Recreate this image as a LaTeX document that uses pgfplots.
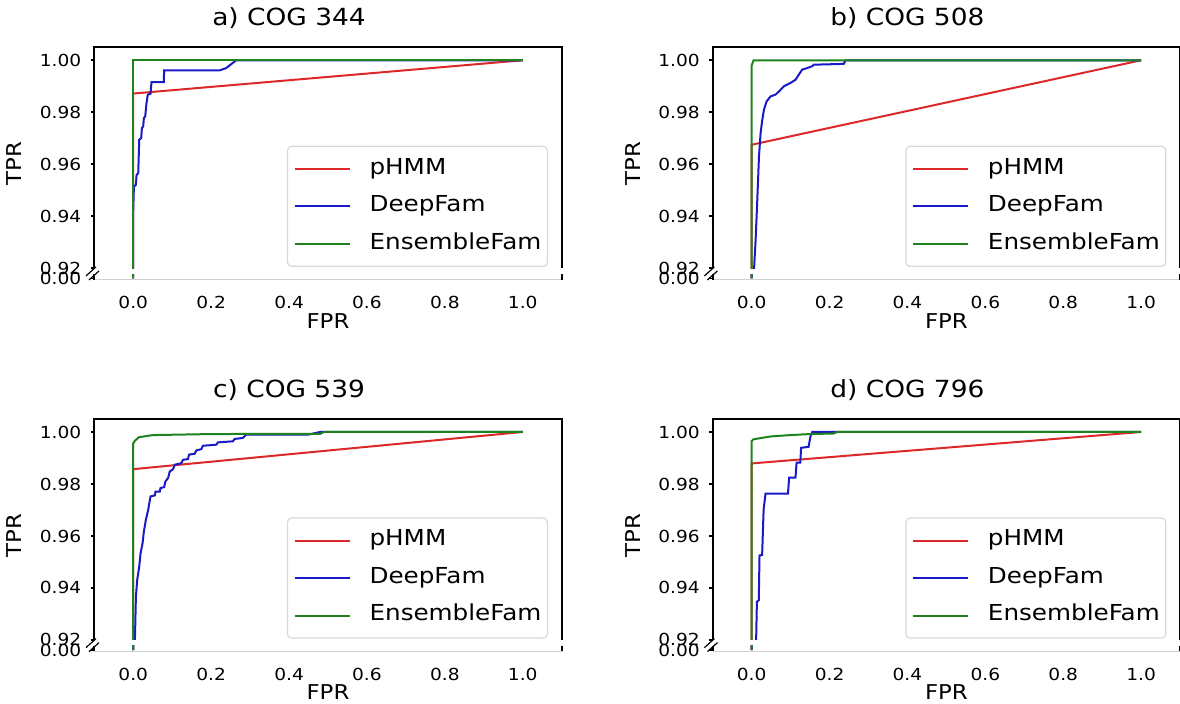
\documentclass[border=0pt]{standalone}
\usepackage{fontspec}
\setmainfont{DejaVu Sans}[FakeStretch=1.12]
\usepackage{pgfplots}
\usepackage{pgfplotstable}
\pgfplotsset{compat=1.18}

\definecolor{cred}{RGB}{220,40,40}
\definecolor{cblue}{RGB}{25,25,200}
\definecolor{cgreen}{RGB}{30,130,30}

\newcommand\tickfont{\fontsize{8.3}{10}\selectfont}
\newcommand\labelfont{\fontsize{10.2}{12}\selectfont}
\newcommand\titlefont{\fontsize{11.8}{14}\selectfont}
\newcommand\legfont{\fontsize{11}{13}\selectfont}

% ---------- data ----------
\pgfplotstableread{
x y
0 0
0 0.9872
1 1
}\aRed
\pgfplotstableread{
x y
0 0
0 0.9424
0.0017 0.9514
0.0068 0.9521
0.0085 0.9559
0.0128 0.9566
0.0153 0.9694
0.0205 0.9701
0.0222 0.9739
0.0256 0.9746
0.0273 0.9778
0.0307 0.9784
0.0341 0.9836
0.0375 0.9868
0.0443 0.9871
0.0469 0.9916
0.0784 0.9916
0.0793 0.9961
0.2217 0.9961
0.2387 0.9970
0.2558 0.9990
0.2643 1.0
1 1
}\aBlue
\pgfplotstableread{
x y
0 0
0 1
1 1
}\aGreen

\pgfplotstableread{
x y
0 0
0 0.9675
1 1
}\bRed
\pgfplotstableread{
x y
0 0
0.006 0.9193
0.0102 0.9309
0.0145 0.9463
0.0188 0.963
0.023 0.972
0.0273 0.9771
0.0316 0.981
0.0384 0.9842
0.0486 0.9861
0.0614 0.9868
0.07 0.988
0.0828 0.99
0.0998 0.9913
0.1126 0.9925
0.1212 0.9945
0.1297 0.9964
0.1425 0.997
0.1553 0.9977
0.1596 0.9983
0.2363 0.9986
0.241 1.0
1 1
}\bBlue
\pgfplotstableread{
x y
0 0
0 0.998
0.005 1
1 1
}\bGreen

\pgfplotstableread{
x y
0 0
0 0.9857
1 1
}\cRed
\pgfplotstableread{
x y
0 0
0.0043 0.92
0.0068 0.9366
0.0102 0.9431
0.0153 0.9482
0.0188 0.9534
0.0239 0.9572
0.0273 0.9617
0.0324 0.9662
0.0384 0.9701
0.0443 0.9752
0.0554 0.9756
0.0571 0.9771
0.0682 0.9771
0.0699 0.9784
0.0793 0.9788
0.0827 0.981
0.0895 0.9823
0.0938 0.9848
0.1023 0.9857
0.1066 0.9874
0.1236 0.988
0.1279 0.9893
0.1407 0.9896
0.1432 0.9913
0.1577 0.9916
0.162 0.9929
0.1748 0.9934
0.179 0.9947
0.2131 0.9951
0.2174 0.996
0.2558 0.9964
0.26 0.9973
0.2813 0.9977
0.2899 0.999
0.45 0.999
0.48 1.0
1 1
}\cBlue
\pgfplotstableread{
x y
0 0
0 0.9955
0.004 0.9966
0.015 0.998
0.05 0.9988
0.2 0.9992
0.48 0.9993
0.49 1
1 1
}\cGreen

\pgfplotstableread{
x y
0 0
0 0.9879
1 1
}\dRed
\pgfplotstableread{
x y
0 0
0.0115 0.92
0.0135 0.9347
0.0183 0.9353
0.0202 0.9525
0.0269 0.9527
0.0308 0.9703
0.0356 0.9763
0.0933 0.9763
0.0962 0.9824
0.1125 0.9824
0.1154 0.9882
0.125 0.9882
0.1269 0.9939
0.1462 0.9943
0.151 0.9983
0.1558 1
1 1
}\dBlue
\pgfplotstableread{
x y
0 0
0 0.9965
0.005 0.9972
0.05 0.9983
0.1 0.9988
0.15 0.9992
0.21 0.9994
0.22 1
1 1
}\dGreen

% ---------- styles ----------
\pgfplotsset{
  common/.style={
    width=233.7pt, scale only axis, anchor=south west,
    xmin=-0.1, xmax=1.1,
    axis line style={draw=none},
    clip mode=individual,
    scaled ticks=false,
    tick align=outside, ytick pos=left,
    major tick length=1.75pt,
    tick style={black, line width=0.8pt},
    yticklabel style={font=\tickfont, anchor=east, inner sep=0pt, xshift=-4.55pt},
    every axis plot/.append style={line width=1pt},
  },
  upper/.style={
    common, height=110.5pt,
    ymin=0.92, ymax=1.005,
    xtick=\empty,
    ytick={0.92,0.94,0.96,0.98,1.00},
    yticklabels={0.92,0.94,0.96,0.98,1.00},
    ylabel={TPR},
    ylabel style={at={(axis description cs:-0.171,0.474)}, anchor=center, font=\labelfont},
    title style={at={(axis description cs:0.4166,1.0421)}, anchor=base, font=\titlefont, inner sep=0pt},
    legend style={at={(0.9707,0.006)}, anchor=south east, draw=black!15, line width=0.6pt,
      rounded corners=2pt, fill=white, font=\legfont,
      inner xsep=3pt, inner ysep=5.75pt, row sep=7.75pt,
      nodes={inner sep=0pt, text height=8.2pt, text depth=2.8pt, anchor=west},
      /tikz/every odd column/.style={column sep=9.5pt}},
    legend cell align=left,
    legend image code/.code={\draw[#1] (0pt,0pt) -- (27.5pt,0pt);},
  },
  lower/.style={
    common, height=2.75pt,
    ymin=-0.001, ymax=0.0035,
    ytick={0}, yticklabels={0.00},
    xtick={0,0.2,0.4,0.6,0.8,1.0},
    xticklabels={0.0,0.2,0.4,0.6,0.8,1.0},
    xtick style={draw=none},
    xticklabel style={font=\tickfont, anchor=base, inner sep=0pt, yshift=-12.7pt},
    xlabel={FPR},
    xlabel style={at={(axis description cs:0.5,0)}, anchor=base, inner sep=0pt, yshift=-24.3pt, font=\labelfont},
  },
}

% #1 x, #2 y of upper axis bottom, #3 y of lower axis bottom, #4 title, #5 red, #6 blue, #7 green
\newcommand{\panel}[7]{%
  \begin{axis}[upper, at={(#1,#2)}, title={#4}]
    \addplot[cred] table {#5}; \addlegendentry{pHMM}
    \addplot[cblue] table {#6}; \addlegendentry{DeepFam}
    \addplot[cgreen] table {#7}; \addlegendentry{EnsembleFam}
    \draw[black, line width=1pt] (rel axis cs:0,0) -- (rel axis cs:0,1) -- (rel axis cs:1,1) -- (rel axis cs:1,0);
    \draw[black, line width=0.6pt] (rel axis cs:-0.0178,-0.0348) -- (rel axis cs:0.0036,0.0059);
    \draw[black, line width=0.6pt] (rel axis cs:-0.0113,-0.0529) -- (rel axis cs:0.0101,-0.0122);
  \end{axis}
  \begin{axis}[lower, at={(#1,#3)}]
    \addplot[cred, forget plot] table {#5};
    \addplot[cblue, forget plot] table {#6};
    \addplot[cgreen, forget plot] table {#7};
    \draw[black!18, line width=0.8pt] (rel axis cs:0,0) -- (rel axis cs:1,0);
    \draw[black, line width=1pt] (rel axis cs:0,0) -- (rel axis cs:0,1);
    \draw[black, line width=1pt] (rel axis cs:1,0) -- (rel axis cs:1,1);
  \end{axis}
}

\begin{document}
\begin{tikzpicture}
  \panel{47.15pt}{217.85pt}{212.15pt}{a) COG 344}{\aRed}{\aBlue}{\aGreen}
  \panel{356.35pt}{217.85pt}{212.15pt}{b) COG 508}{\bRed}{\bBlue}{\bGreen}
  \panel{47.15pt}{32.0pt}{26.3pt}{c) COG 539}{\cRed}{\cBlue}{\cGreen}
  \panel{356.35pt}{32.0pt}{26.3pt}{d) COG 796}{\dRed}{\dBlue}{\dGreen}
  \pgfresetboundingbox
  \useasboundingbox (0,0) rectangle (590pt,352pt);
\end{tikzpicture}
\end{document}
